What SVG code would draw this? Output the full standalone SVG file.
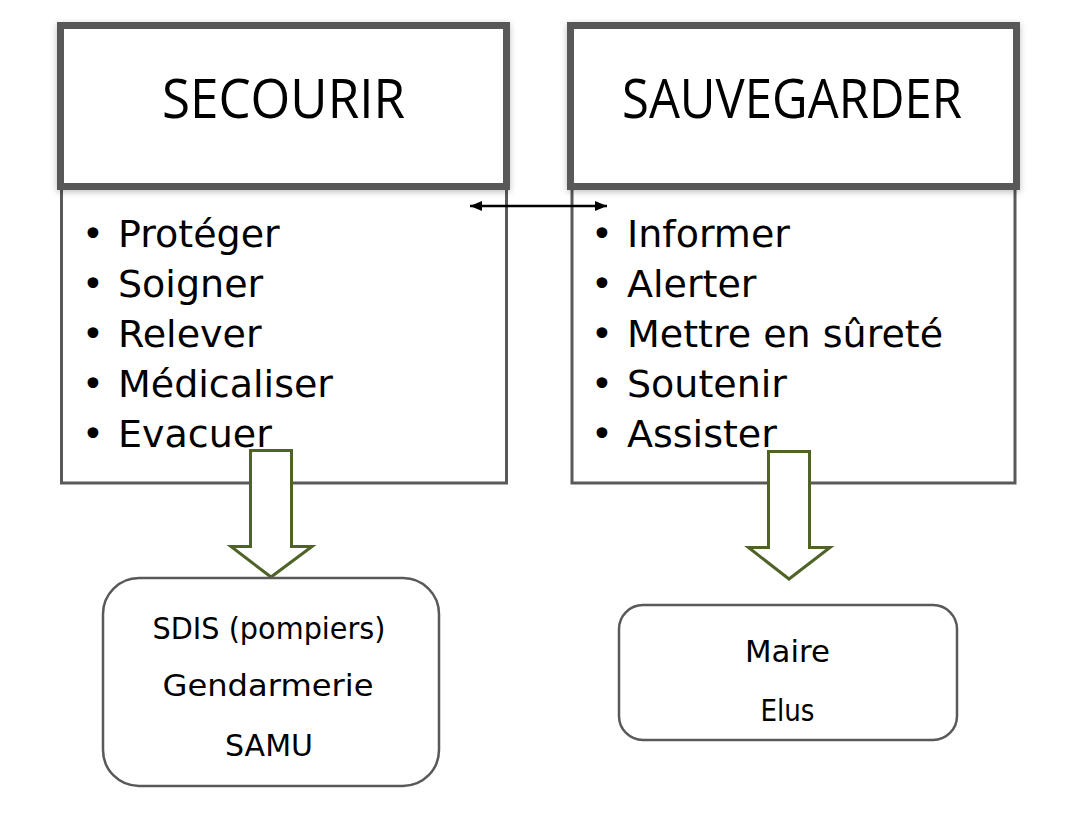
<svg xmlns="http://www.w3.org/2000/svg" width="1084" height="830" viewBox="0 0 1084 830">
<style>
.body{fill:#fff;stroke:#595959;stroke-width:3}
.head{fill:#fff;stroke:#595959;stroke-width:7;filter:url(#sh)}
.title{font-family:"Open Sans",sans-serif;font-size:54px;fill:#000;text-anchor:middle}
.item{font-family:"DejaVu Sans",sans-serif;font-size:38px;fill:#000}
.bul{font-family:"DejaVu Sans",sans-serif;font-size:37px;fill:#000;text-anchor:middle}
.org{fill:#fff;stroke:#595959;stroke-width:2.5}
.otxt{font-family:"DejaVu Sans",sans-serif;font-size:30px;fill:#000;text-anchor:middle}
.block{fill:#fff;stroke:#4F6228;stroke-width:3;stroke-linejoin:miter}
.link{stroke:#000;stroke-width:2.5;fill:none}
</style>
<defs>
<filter id="sh" x="-5%" y="-10%" width="110%" height="125%">
<feDropShadow dx="0" dy="2" stdDeviation="3" flood-color="#000" flood-opacity="0.25"/>
</filter>
<marker id="ah" viewBox="0 0 12 10" refX="12" refY="5" markerWidth="12" markerHeight="10" markerUnits="userSpaceOnUse" orient="auto-start-reverse">
<path d="M0,0 L12,5 L0,10 Z" fill="#000"/>
</marker>
</defs>
<rect width="1084" height="830" fill="#fff"/>

<g id="secourir">
<rect class="body" x="61.5" y="187" width="445" height="296"/>
<rect class="head" x="60.5" y="25.5" width="446" height="161"/>
<text class="title" x="283.5" y="118" textLength="243" lengthAdjust="spacingAndGlyphs">SECOURIR</text>
<text class="bul" x="93" y="247">•</text><text class="item" x="118" y="247">Protéger</text>
<text class="bul" x="93" y="297">•</text><text class="item" x="118" y="297">Soigner</text>
<text class="bul" x="93" y="347">•</text><text class="item" x="118" y="347">Relever</text>
<text class="bul" x="93" y="397">•</text><text class="item" x="118" y="397">Médicaliser</text>
<text class="bul" x="93" y="447">•</text><text class="item" x="118" y="447">Evacuer</text>
</g>

<g id="sauvegarder">
<rect class="body" x="572" y="187" width="443" height="296"/>
<rect class="head" x="570.5" y="25.5" width="446" height="161"/>
<text class="title" x="792" y="118" textLength="340" lengthAdjust="spacingAndGlyphs">SAUVEGARDER</text>
<text class="bul" x="602" y="247">•</text><text class="item" x="627" y="247">Informer</text>
<text class="bul" x="602" y="297">•</text><text class="item" x="627" y="297">Alerter</text>
<text class="bul" x="602" y="347">•</text><text class="item" x="627" y="347">Mettre en sûreté</text>
<text class="bul" x="602" y="397">•</text><text class="item" x="627" y="397">Soutenir</text>
<text class="bul" x="602" y="447">•</text><text class="item" x="627" y="447">Assister</text>
</g>

<g id="connectors">
<line class="link" x1="470" y1="206" x2="607" y2="206" marker-start="url(#ah)" marker-end="url(#ah)"/>
<path class="block" d="M250.5,450.5 H291.5 V546.5 H312 L271,577 L231,546.5 H250.5 Z"/>
<path class="block" d="M768.5,451.5 H809.5 V547.5 H830 L789,579 L748.5,547.5 H768.5 Z"/>
</g>

<g id="secours">
<rect class="org" x="103" y="578" width="336" height="208" rx="36" ry="36"/>
<text class="otxt" x="269" y="639" textLength="233" lengthAdjust="spacingAndGlyphs">SDIS (pompiers)</text>
<text class="otxt" x="268" y="696" textLength="211" lengthAdjust="spacingAndGlyphs">Gendarmerie</text>
<text class="otxt" x="269" y="756" textLength="88" lengthAdjust="spacingAndGlyphs">SAMU</text>
</g>

<g id="autorites">
<rect class="org" x="619" y="605" width="338" height="135" rx="24" ry="24"/>
<text class="otxt" x="787.5" y="662" textLength="85" lengthAdjust="spacingAndGlyphs">Maire</text>
<text class="otxt" x="787.5" y="721" textLength="54" lengthAdjust="spacingAndGlyphs">Elus</text>
</g>
</svg>
